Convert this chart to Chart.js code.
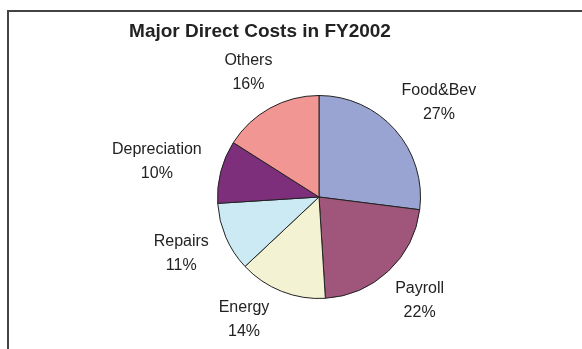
<!DOCTYPE html>
<html>
<head>
<meta charset="utf-8">
<script src="https://cdn.jsdelivr.net/npm/chart.js@4/dist/chart.umd.min.js"></script>
<style>
    body { margin: 0; background: #fff; }
    #wrap { position: relative; width: 582px; height: 349px; }
    #frame {
        position: absolute; left: 7px; top: 10px; right: 0; bottom: 0;
        border-top: 2px solid #444; border-left: 2px solid #444;
        pointer-events: none;
    }
</style>
</head>
<body>
<div id="wrap">
    <canvas id="costChart" width="582" height="349"></canvas>
    <div id="frame"></div>
</div>
<script>
const categories = ['Food&Bev', 'Payroll', 'Energy', 'Repairs', 'Depreciation', 'Others'];
const shares = [27, 22, 14, 11, 10, 16]; // percent
const title = 'Major Direct Costs in FY2002';

const colors = {
    foodBev: '#99A4D2',
    payroll: '#A0557B',
    energy: '#F3F2D3',
    repairs: '#CCEAF4',
    depreciation: '#7D2F7C',
    others: '#F19692'
};

const fontFamily = '"Liberation Sans", Arial, Helvetica, sans-serif';

// title drawn off-center like the original sheet chart
const titlePlugin = {
    id: 'sheetTitle',
    afterDraw(chart, args, opts) {
        const ctx = chart.ctx;
        ctx.save();
        ctx.font = 'bold 19px ' + fontFamily;
        ctx.fillStyle = '#222';
        ctx.textAlign = 'center';
        ctx.textBaseline = 'middle';
        ctx.fillText(opts.text, opts.x, opts.y);
        ctx.restore();
    }
};

// two-line labels outside each slice; the label box edge sits a gap away from the rim,
// and a label that would run off the bottom is turned along the ring
const outsideLabels = {
    id: 'outsideLabels',
    afterDatasetsDraw(chart, args, opts) {
        const ctx = chart.ctx;
        const meta = chart.getDatasetMeta(0);
        const data = chart.data.datasets[0].data;
        const total = data.reduce((a, b) => a + b, 0);
        ctx.save();
        ctx.font = '16px ' + fontFamily;
        ctx.fillStyle = '#222';
        ctx.textAlign = 'center';
        ctx.textBaseline = 'middle';
        meta.data.forEach((arc, i) => {
            const p = arc.getProps(['x', 'y', 'startAngle', 'endAngle', 'outerRadius'], true);
            const name = chart.data.labels[i];
            const pct = Math.round(data[i] / total * 100) + '%';
            const halfW = Math.max(ctx.measureText(name).width, ctx.measureText(pct).width) / 2;
            const halfH = opts.halfHeight;
            const r = p.outerRadius + opts.gap;
            const place = (a) => {
                const ux = Math.cos(a), uy = Math.sin(a);
                return { x: p.x + ux * (r + halfW), y: p.y + uy * (r + halfH) };
            };
            let a = (p.startAngle + p.endAngle) / 2;
            let pos = place(a);
            const maxY = chart.height - opts.bottomMargin;
            const step = Math.cos(a) < 0 ? 0.005 : -0.005;
            while (pos.y > maxY) {
                a += step;
                pos = place(a);
            }
            ctx.fillText(name, pos.x, pos.y - opts.lineGap / 2);
            ctx.fillText(pct, pos.x, pos.y + opts.lineGap / 2);
        });
        ctx.restore();
    }
};

const ctx = document.getElementById('costChart').getContext('2d');
new Chart(ctx, {
    type: 'pie',
    data: {
        labels: categories,
        datasets: [{
            data: shares,
            backgroundColor: [
                colors.foodBev,
                colors.payroll,
                colors.energy,
                colors.repairs,
                colors.depreciation,
                colors.others
            ],
            borderColor: '#222',
            borderWidth: 1
        }]
    },
    options: {
        responsive: false,
        animation: false,
        layout: {
            padding: { top: 95, bottom: 50, left: 217, right: 161 }
        },
        plugins: {
            legend: { display: false },
            tooltip: { enabled: false },
            title: { display: false },
            sheetTitle: { text: title, x: 260, y: 32 },
            outsideLabels: { gap: 21, halfHeight: 20, lineGap: 24, bottomMargin: 29 }
        }
    },
    plugins: [titlePlugin, outsideLabels]
});
</script>
</body>
</html>
